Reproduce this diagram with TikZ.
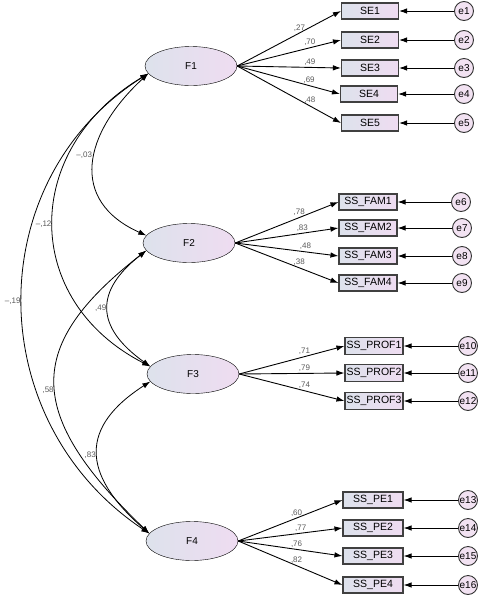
\documentclass[tikz,border=0pt]{standalone}
\usepackage{fontspec}
\setmainfont{Liberation Sans}
\usepackage{xcolor}
\usetikzlibrary{shapes.geometric,arrows.meta}
\definecolor{shadeleft}{HTML}{DDE2EC}
\definecolor{shaderight}{HTML}{EFDCF1}
\definecolor{errfill}{HTML}{F2E2F2}
\tikzset{
    latent-var/.style = {draw, thin, ellipse, minimum width=92pt, minimum height=39pt, inner sep=0pt, left color=shadeleft, right color=shaderight, font=\fontsize{10}{12}\selectfont},
    obs-box/.style = {draw=black!75, line width=1.1pt, rectangle, minimum width=57pt, minimum height=16pt, inner sep=0pt, left color=shadeleft, right color=shaderight, font=\fontsize{10.5}{12}\selectfont},
    err-circle/.style = {draw=black!80, line width=0.9pt, circle, minimum size=19pt, inner sep=0pt, fill=errfill, font=\fontsize{10}{12}\selectfont},
    path-arrow/.style = {-{Latex[length=8pt,width=5.5pt]}, line width=0.9pt},
    cov-arc/.style = {{Latex[length=8pt,width=5.5pt]}-{Latex[length=8pt,width=5.5pt]}, line width=0.8pt},
    coef-label/.style = {text=black!65, inner sep=1.5pt, font=\fontsize{8}{9}\selectfont},
}
\begin{document}
\begin{tikzpicture}[x=1pt, y=-1pt]
\useasboundingbox (0,0) rectangle (480,595);
% latent factors
\node[latent-var] (F1) at (191,66) {F1};
\node[latent-var] (F2) at (189,243) {F2};
\node[latent-var] (F3) at (193,374) {F3};
\node[latent-var] (F4) at (192,541) {F4};
% indicators of F1
\node[obs-box] (SE1) at (370,11) {SE1};
\node[obs-box] (SE2) at (370,40) {SE2};
\node[obs-box] (SE3) at (370,68) {SE3};
\node[obs-box] (SE4) at (369,94) {SE4};
\node[obs-box] (SE5) at (370,123) {SE5};
% indicators of F2
\node[obs-box, minimum width=58pt] (FAM1) at (368,202) {SS\_FAM1};
\node[obs-box, minimum width=58pt] (FAM2) at (368,228) {SS\_FAM2};
\node[obs-box, minimum width=58pt] (FAM3) at (368,256) {SS\_FAM3};
\node[obs-box, minimum width=58pt] (FAM4) at (368,283) {SS\_FAM4};
% indicators of F3
\node[obs-box, minimum width=58pt, minimum height=17pt] (PROF1) at (374,346) {SS\_PROF1};
\node[obs-box, minimum width=58pt, minimum height=17pt] (PROF2) at (374,373) {SS\_PROF2};
\node[obs-box, minimum width=58pt, minimum height=17pt] (PROF3) at (374,401) {SS\_PROF3};
% indicators of F4
\node[obs-box, minimum width=60pt] (PE1) at (373,500) {SS\_PE1};
\node[obs-box, minimum width=60pt] (PE2) at (373,528) {SS\_PE2};
\node[obs-box, minimum width=60pt] (PE3) at (373,556) {SS\_PE3};
\node[obs-box, minimum width=60pt] (PE4) at (373,585) {SS\_PE4};
% error terms
\node[err-circle] (e1) at (464,11) {e1};
\node[err-circle] (e2) at (464,40) {e2};
\node[err-circle] (e3) at (464,68) {e3};
\node[err-circle] (e4) at (464,94) {e4};
\node[err-circle] (e5) at (464,123) {e5};
\node[err-circle] (e6) at (461,202) {e6};
\node[err-circle] (e7) at (462,228) {e7};
\node[err-circle] (e8) at (462,256) {e8};
\node[err-circle] (e9) at (462,283) {e9};
\node[err-circle] (e10) at (468,346) {e10};
\node[err-circle] (e11) at (468,373) {e11};
\node[err-circle] (e12) at (468,401) {e12};
\node[err-circle] (e13) at (468,500) {e13};
\node[err-circle] (e14) at (468,528) {e14};
\node[err-circle] (e15) at (468,556) {e15};
\node[err-circle] (e16) at (468,585) {e16};
% loadings
\draw[path-arrow] (F1.east) -- node[coef-label, pos=0.6, above] {,27} (SE1.west);
\draw[path-arrow] (F1.east) -- node[coef-label, pos=0.7, above] {,70} (SE2.west);
\draw[path-arrow] (F1.east) -- node[coef-label, pos=0.7, above] {,49} (SE3.west);
\draw[path-arrow] (F1.east) -- node[coef-label, pos=0.7, above] {,69} (SE4.west);
\draw[path-arrow] (F1.east) -- node[coef-label, pos=0.7, above] {,48} (SE5.west);
\draw[path-arrow] (F2.east) -- node[coef-label, pos=0.62, above] {,78} (FAM1.west);
\draw[path-arrow] (F2.east) -- node[coef-label, pos=0.65, above] {,83} (FAM2.west);
\draw[path-arrow] (F2.east) -- node[coef-label, pos=0.68, above] {,48} (FAM3.west);
\draw[path-arrow] (F2.east) -- node[coef-label, pos=0.62, above] {,38} (FAM4.west);
\draw[path-arrow] (F3.east) -- node[coef-label, pos=0.62, above] {,71} (PROF1.west);
\draw[path-arrow] (F3.east) -- node[coef-label, pos=0.62, above] {,79} (PROF2.west);
\draw[path-arrow] (F3.east) -- node[coef-label, pos=0.62, above] {,74} (PROF3.west);
\draw[path-arrow] (F4.east) -- node[coef-label, pos=0.56, above] {,60} (PE1.west);
\draw[path-arrow] (F4.east) -- node[coef-label, pos=0.6, above] {,77} (PE2.west);
\draw[path-arrow] (F4.east) -- node[coef-label, pos=0.56, above] {,76} (PE3.west);
\draw[path-arrow] (F4.east) -- node[coef-label, pos=0.56, above] {,82} (PE4.west);
% residuals
\draw[path-arrow] (e1) -- (SE1);
\draw[path-arrow] (e2) -- (SE2);
\draw[path-arrow] (e3) -- (SE3);
\draw[path-arrow] (e4) -- (SE4);
\draw[path-arrow] (e5) -- (SE5);
\draw[path-arrow] (e6) -- (FAM1);
\draw[path-arrow] (e7) -- (FAM2);
\draw[path-arrow] (e8) -- (FAM3);
\draw[path-arrow] (e9) -- (FAM4);
\draw[path-arrow] (e10) -- (PROF1);
\draw[path-arrow] (e11) -- (PROF2);
\draw[path-arrow] (e12) -- (PROF3);
\draw[path-arrow] (e13) -- (PE1);
\draw[path-arrow] (e14) -- (PE2);
\draw[path-arrow] (e15) -- (PE3);
\draw[path-arrow] (e16) -- (PE4);
% covariances
\draw[cov-arc] (F1.190) .. controls +(-65,60) and +(-78,-35) .. node[coef-label, pos=0.45, left=1pt] {–,03} (F2.170);
\draw[cov-arc] (F1.190) .. controls +(-127,76) and +(-129,-66) .. node[coef-label, pos=0.5, left] {–,12} (F3.170);
\draw[cov-arc] (F1.190) .. controls +(-168,106) and +(-169,-113) .. node[coef-label, pos=0.5, left] {–,19} (F4.170);
\draw[cov-arc] (F2.190) .. controls +(-51,40) and +(-56,-40) .. node[coef-label, pos=0.5, left] {,49} (F3.170);
\draw[cov-arc] (F2.190) .. controls +(-122,95) and +(-125,-120) .. node[coef-label, pos=0.53, left] {,58} (F4.170);
\draw[cov-arc] (F3.190) .. controls +(-70,45) and +(-69,-60) .. node[coef-label, pos=0.52, left] {,83} (F4.170);
\end{tikzpicture}
\end{document}
